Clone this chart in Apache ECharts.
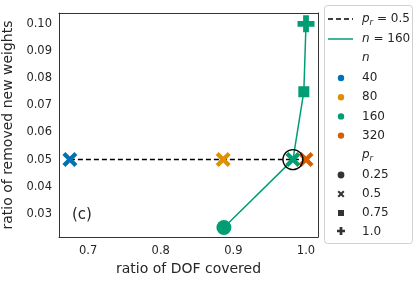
<!DOCTYPE html>
<html><head><meta charset="utf-8">
<script src="https://cdn.jsdelivr.net/npm/echarts@6/dist/echarts.min.js"></script>
<style>html,body{margin:0;padding:0;background:#fff}#c{width:420px;height:282px}</style>
</head><body><div id="c"></div>
<script>
// Data
const nValues = [40, 80, 160, 320];
const nColors = ['#0173b2', '#de8f05', '#029e73', '#d55e00'];
const prValues = ['0.25', '0.5', '0.75', '1.0'];
// points: [dof covered, removed weights, n index, pr index]
const dofCovered = [0.675, 0.886, 0.982, 1.0, 0.887, 0.997, 1.0];
const removedW   = [0.05, 0.05, 0.05, 0.05, 0.025, 0.075, 0.10];
const pointN     = [0, 1, 2, 3, 2, 2, 2];
const pointPr    = [1, 1, 1, 1, 0, 2, 3];
// dashed line p_r = 0.5 (indices into points), green line n = 160
const prHalfLine = [0, 1, 2, 3];
const n160Line   = [4, 2, 5, 6];
const highlight  = [0.982, 0.05];

const X_PATH = 'path://M0 2 L2 0 L5 3 L8 0 L10 2 L7 5 L10 8 L8 10 L5 7 L2 10 L0 8 L3 5 Z';
const PLUS_PATH = 'path://M3.3 0 H6.7 V3.3 H10 V6.7 H6.7 V10 H3.3 V6.7 H0 V3.3 H3.3 Z';
const X_PTS = [[0,2],[2,0],[5,3],[8,0],[10,2],[7,5],[10,8],[8,10],[5,7],[2,10],[0,8],[3,5]];
const PLUS_PTS = [[3.3,0],[6.7,0],[6.7,3.3],[10,3.3],[10,6.7],[6.7,6.7],[6.7,10],[3.3,10],[3.3,6.7],[0,6.7],[0,3.3],[3.3,3.3]];
const prSymbols = ['circle', X_PATH, 'rect', PLUS_PATH];
const prSizes = [15, 15, 11, 17];

const chart = echarts.init(document.getElementById('c'), null, {renderer: 'canvas'});
const FONT = 'DejaVu Sans';
const TXT = '#262626';

const series = [];
series.push({
  type: 'line', data: prHalfLine.map(i => [dofCovered[i], removedW[i]]),
  showSymbol: false, symbol: 'none', z: 2, silent: true,
  lineStyle: {color: '#000', width: 1.5, type: [5, 3]}
});
series.push({
  type: 'line', data: n160Line.map(i => [dofCovered[i], removedW[i]]),
  showSymbol: false, symbol: 'none', z: 2, silent: true,
  lineStyle: {color: '#029e73', width: 1.5}
});
dofCovered.forEach((x, i) => {
  series.push({
    type: 'scatter', z: 3, silent: true,
    data: [[x, removedW[i]]],
    symbol: prSymbols[pointPr[i]], symbolSize: prSizes[pointPr[i]],
    itemStyle: {color: nColors[pointN[i]], opacity: 1}
  });
});
series.push({
  type: 'scatter', z: 4, silent: true, data: [highlight],
  symbol: 'circle', symbolSize: 20,
  itemStyle: {color: 'rgba(0,0,0,0)', borderColor: '#000', borderWidth: 1.3, opacity: 1}
});

// legend (graphic)
const LX = 324, LY = 5;
const g = [];
g.push({type: 'rect', shape: {x: LX + 0.5, y: LY + 0.5, width: 88, height: 238, r: 3},
  style: {fill: '#fff', stroke: '#d0d0d0', lineWidth: 1}, z: 10});
const rich = {
  i: {fontFamily: FONT, fontStyle: 'italic', fontSize: 12, fill: TXT},
  s: {fontFamily: FONT, fontStyle: 'italic', fontSize: 8.5, fill: TXT, padding: [7, 0, 0, 0]},
  t: {fontFamily: FONT, fontSize: 12, fill: TXT}
};
function ltext(y, txt) {
  g.push({type: 'text', x: 362, y: y, z: 11,
    style: {text: txt, rich: rich, font: '12px ' + FONT, fill: TXT, verticalAlign: 'middle'}});
}
function pts(arr, cx, cy, size) {
  return arr.map(p => [cx + (p[0] - 5) * size / 10, cy + (p[1] - 5) * size / 10]);
}
g.push({type: 'line', shape: {x1: 328, y1: 19, x2: 353, y2: 19}, z: 11,
  style: {stroke: '#000', lineWidth: 1.5, lineDash: [5, 3]}});
ltext(19, '{i|p}{s|r}{t| = 0.5}');
g.push({type: 'line', shape: {x1: 328, y1: 39, x2: 353, y2: 39}, z: 11,
  style: {stroke: '#029e73', lineWidth: 1.5}});
ltext(39, '{i|n}{t| = 160}');
ltext(58, '{i|n}');
nValues.forEach((n, k) => {
  const y = 78 + k * 19.2;
  g.push({type: 'circle', shape: {cx: 341, cy: y, r: 3.2}, z: 11, style: {fill: nColors[k]}});
  ltext(y, '{t|' + n + '}');
});
ltext(155, '{i|p}{s|r}');
const legSym = [
  {type: 'circle', shape: {cx: 341, cy: 175, r: 3.4}},
  {type: 'polygon', shape: {points: pts(X_PTS, 341, 194, 7)}},
  {type: 'rect', shape: {x: 338, y: 210, width: 6, height: 6}},
  {type: 'polygon', shape: {points: pts(PLUS_PTS, 341, 231, 8)}}
];
prValues.forEach((p, k) => {
  const y = 175 + k * 19;
  g.push(Object.assign({z: 11, style: {fill: '#333'}}, legSym[k]));
  ltext(y, '{t|' + p + '}');
});
// panel label
g.push({type: 'text', x: 72, y: 215, z: 5,
  style: {text: '(c)', font: '15px ' + FONT, fill: TXT, verticalAlign: 'middle'}});

const frameLine = {show: true, onZero: false, lineStyle: {color: '#333', width: 1}};
chart.setOption({
  animation: false,
  backgroundColor: '#fff',
  grid: {left: 59, top: 13, right: 102, bottom: 45, show: false, containLabel: false, outerBoundsMode: 'none'},
  xAxis: [{
    type: 'value', min: 0.66, max: 1.0165, splitNumber: 4,
    name: 'ratio of DOF covered', nameLocation: 'middle', nameGap: 24,
    nameTextStyle: {fontFamily: FONT, fontSize: 14, color: TXT},
    axisLine: frameLine,
    axisTick: {show: false}, splitLine: {show: false},
    axisLabel: {fontFamily: FONT, fontSize: 11.5, color: TXT, margin: 8,
      showMinLabel: false, showMaxLabel: false, formatter: v => v.toFixed(1)}
  }, {
    type: 'value', position: 'top', min: 0.66, max: 1.0165,
    axisLine: frameLine, axisTick: {show: false},
    axisLabel: {show: false}, splitLine: {show: false}
  }],
  yAxis: [{
    type: 'value', min: 0.0215, max: 0.104, splitNumber: 8,
    name: 'ratio of removed new weights', nameLocation: 'middle', nameGap: 38,
    nameTextStyle: {fontFamily: FONT, fontSize: 14, color: TXT},
    axisLine: frameLine,
    axisTick: {show: false}, splitLine: {show: false},
    axisLabel: {fontFamily: FONT, fontSize: 11.5, color: TXT, margin: 7,
      showMinLabel: false, showMaxLabel: false, formatter: v => v.toFixed(2)}
  }, {
    type: 'value', position: 'right', min: 0.0215, max: 0.104,
    axisLine: frameLine, axisTick: {show: false},
    axisLabel: {show: false}, splitLine: {show: false}
  }],
  graphic: g,
  series: series
});
</script></body></html>
